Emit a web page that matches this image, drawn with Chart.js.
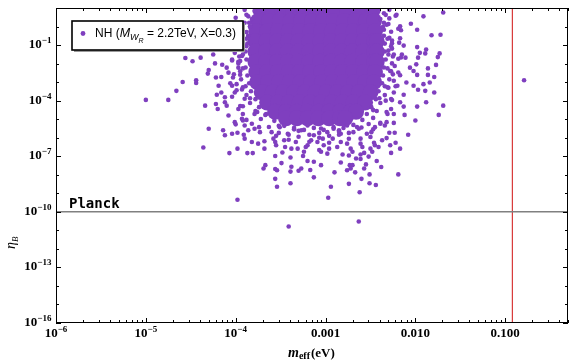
<!DOCTYPE html>
<html>
<head>
<meta charset="utf-8">
<script src="https://cdn.jsdelivr.net/npm/chart.js@4"></script>
<style>
  html, body { margin: 0; padding: 0; background: #fff; }
  #wrap { width: 576px; height: 363px; }
</style>
</head>
<body>
<div id="wrap"><canvas id="chart"></canvas></div>
<script>
/* =========================
   DATA (log10 m_eff, log10 eta_B)
========================= */
const xMin = 1e-6, xMax = 0.5;
const yMin = 1e-16, yMax = 10;
const planckEta = 1e-10;
const mEffBound = 0.12;

const xTickValues = [1e-6, 1e-5, 1e-4, 1e-3, 1e-2, 1e-1];
const xTickLabels = ["10^−6", "10^−5", "10^−4", "0.001", "0.010", "0.100"];
const yTickValues = [1e-16, 1e-13, 1e-10, 1e-7, 1e-4, 1e-1];
const yTickLabels = ["10^−16", "10^−13", "10^−10", "10^−7", "10^−4", "10^−1"];

// dense centre of the cloud
const coreLog = [
  [-3.72,0.85],[-3.60,0.85],[-3.48,0.85],[-3.36,0.85],[-3.24,0.85],[-3.12,0.85],[-3.00,0.85],[-2.88,0.85],[-2.76,0.85],[-2.64,0.85],[-2.52,0.85],[-2.48,0.85],
  [-3.75,0.30],[-3.63,0.30],[-3.51,0.30],[-3.39,0.30],[-3.27,0.30],[-3.15,0.30],[-3.03,0.30],[-2.91,0.30],[-2.79,0.30],[-2.67,0.30],[-2.55,0.30],[-2.46,0.30],
  [-3.77,-0.25],[-3.65,-0.25],[-3.53,-0.25],[-3.41,-0.25],[-3.29,-0.25],[-3.17,-0.25],[-3.05,-0.25],[-2.93,-0.25],[-2.81,-0.25],[-2.69,-0.25],[-2.57,-0.25],[-2.45,-0.25],
  [-3.78,-0.80],[-3.66,-0.80],[-3.54,-0.80],[-3.42,-0.80],[-3.30,-0.80],[-3.18,-0.80],[-3.06,-0.80],[-2.94,-0.80],[-2.82,-0.80],[-2.70,-0.80],[-2.58,-0.80],[-2.46,-0.80],[-2.43,-0.80],
  [-3.78,-1.35],[-3.66,-1.35],[-3.54,-1.35],[-3.42,-1.35],[-3.30,-1.35],[-3.18,-1.35],[-3.06,-1.35],[-2.94,-1.35],[-2.82,-1.35],[-2.70,-1.35],[-2.58,-1.35],[-2.46,-1.35],[-2.43,-1.35],
  [-3.78,-1.90],[-3.66,-1.90],[-3.54,-1.90],[-3.42,-1.90],[-3.30,-1.90],[-3.18,-1.90],[-3.06,-1.90],[-2.94,-1.90],[-2.82,-1.90],[-2.70,-1.90],[-2.58,-1.90],[-2.46,-1.90],[-2.43,-1.90],
  [-3.77,-2.45],[-3.65,-2.45],[-3.53,-2.45],[-3.41,-2.45],[-3.29,-2.45],[-3.17,-2.45],[-3.05,-2.45],[-2.93,-2.45],[-2.81,-2.45],[-2.69,-2.45],[-2.57,-2.45],[-2.45,-2.45],
  [-3.76,-3.00],[-3.64,-3.00],[-3.52,-3.00],[-3.40,-3.00],[-3.28,-3.00],[-3.16,-3.00],[-3.04,-3.00],[-2.92,-3.00],[-2.80,-3.00],[-2.68,-3.00],[-2.56,-3.00],[-2.46,-3.00],
  [-3.71,-3.55],[-3.59,-3.55],[-3.47,-3.55],[-3.35,-3.55],[-3.23,-3.55],[-3.11,-3.55],[-2.99,-3.55],[-2.87,-3.55],[-2.75,-3.55],[-2.63,-3.55],[-2.50,-3.55],
  [-3.65,-4.10],[-3.53,-4.10],[-3.41,-4.10],[-3.29,-4.10],[-3.17,-4.10],[-3.05,-4.10],[-2.93,-4.10],[-2.81,-4.10],[-2.69,-4.10],[-2.56,-4.10],
  [-3.56,-4.60],[-3.44,-4.60],[-3.32,-4.60],[-3.20,-4.60],[-3.08,-4.60],[-2.96,-4.60],[-2.84,-4.60],[-2.72,-4.60],[-2.66,-4.60],
  [-3.44,-4.95],[-3.32,-4.95],[-3.20,-4.95],[-3.08,-4.95],[-2.96,-4.95],[-2.84,-4.95],[-2.78,-4.95]
];

// dotted rim round the dense centre
const rimLog = [
  [-3.79,0.84],[-3.82,0.41],[-3.84,-0.02],[-3.86,-0.50],[-3.87,-0.92],[-3.89,-1.35],[-3.88,-1.78],[-3.89,-2.21],
  [-3.87,-2.64],[-3.85,-3.06],[-3.83,-3.49],[-3.78,-3.92],[-3.74,-4.35],[-3.67,-4.77],
  [-3.88,0.63],[-3.92,0.14],[-3.94,-0.28],[-3.95,-0.76],[-3.97,-1.19],[-3.96,-1.62],[-3.97,-1.99],[-3.95,-2.42],
  [-3.94,-2.85],[-3.92,-3.28],[-3.88,-3.70],[-3.84,-4.13],[-3.78,-4.56],[-3.72,-4.99],
  [-3.57,-5.09],[-3.46,-5.36],[-3.35,-5.47],[-3.24,-5.58],[-3.13,-5.47],[-3.02,-5.58],[-2.91,-5.52],[-2.80,-5.47],
  [-2.69,-5.31],[-2.59,-5.04],
  [-3.63,-5.42],[-3.52,-5.74],[-3.41,-5.84],[-3.30,-5.95],[-3.18,-5.84],[-3.07,-6.00],[-2.96,-5.90],[-2.85,-5.84],
  [-2.74,-5.74],[-2.63,-5.52],[-2.52,-5.26],
  [-2.41,0.84],[-2.39,0.41],[-2.36,-0.02],[-2.35,-0.50],[-2.34,-0.92],[-2.34,-1.35],[-2.33,-1.78],[-2.35,-2.21],
  [-2.36,-2.64],[-2.37,-3.06],[-2.41,-3.49],[-2.44,-3.92],[-2.49,-4.35],[-2.54,-4.72],
  [-2.33,0.63],[-2.30,0.14],[-2.27,-0.28],[-2.26,-0.76],[-2.26,-1.19],[-2.25,-1.62],[-2.26,-1.99],[-2.27,-2.42],
  [-2.29,-2.85],[-2.31,-3.28],[-2.34,-3.70],[-2.39,-4.13],[-2.43,-4.56],[-2.47,-4.93],
  [-4.00,0.47],[-4.03,-0.18],[-4.05,-0.98],[-4.04,-1.83],[-4.02,-2.58],[-3.99,-3.44],[-3.95,-4.29],[-3.88,-5.04],
  [-2.21,0.63],[-2.19,-0.12],[-2.18,-0.87],[-2.16,-1.67],[-2.19,-2.48],[-2.22,-3.22],[-2.26,-3.97],[-2.32,-4.61],
  [-2.39,-5.20],
  [-3.85,0.20],[-3.88,-0.66],[-3.92,-1.51],[-3.92,-2.26],[-3.89,-3.22],[-3.84,-3.87],[-3.76,-4.61],
  [-2.35,0.20],[-2.31,-0.66],[-2.30,-1.51],[-2.31,-2.26],[-2.34,-3.22],[-2.40,-3.87],[-2.47,-4.51],
  [-3.52,-5.36],[-3.30,-5.63],[-3.07,-5.74],[-2.85,-5.68],[-2.65,-5.42],[-3.41,-6.11],[-3.18,-6.22],[-2.96,-6.27],
  [-2.74,-6.06]
];

// individual points around the centre
const scatterLog = [
  [-5.00,-3.96],[-4.75,-3.96],[-4.66,-3.47],[-4.59,-2.99],[-4.44,-2.90],[-4.44,-3.05],[-4.56,-1.70],[-4.48,-1.87],
  [-4.39,-1.68],[-4.25,-1.51],[-4.30,-2.35],[-4.31,-2.54],[-4.23,-1.99],[-4.15,-2.06],[-4.10,-2.22],[-4.22,-2.75],
  [-4.16,-2.72],[-4.08,-2.49],[-4.19,-3.20],[-4.04,-3.20],[-4.21,-3.68],[-4.12,-3.82],[-4.06,-3.06],[-4.01,-3.56],
  [-4.34,-4.27],[-4.22,-4.18],[-4.20,-4.45],[-4.12,-4.09],[-3.97,-4.45],[-4.08,-4.80],[-4.01,-5.16],[-4.30,-5.52],
  [-4.14,-5.60],[-3.93,-4.98],[-4.04,-3.79],[-4.16,-3.56],[-3.95,-1.15],[-4.01,-1.42],[-4.04,-1.78],[-3.95,-1.86],
  [-4.36,-6.53],[-4.10,-4.27],[-3.99,-3.11],[-4.03,-2.75],[-3.97,-2.22],[-3.93,-1.59],[-3.88,-1.06],[-3.86,-0.52],
  [-3.84,0.01],[-3.86,0.55],[-3.90,0.90],[-4.04,-5.79],[-3.90,-6.05],[-3.98,-6.59],[-3.82,-6.23],[-3.68,-6.59],
  [-4.12,-5.87],[-4.07,-6.83],[-3.87,-6.83],[-3.81,-6.83],[-3.98,-9.35],[-4.00,-5.28],[-3.98,-5.73],[-3.92,-5.07],
  [-3.90,-5.34],[-3.82,-5.25],[-3.79,-5.52],[-3.74,-5.43],[-3.73,-5.70],[-3.68,-6.19],[-3.69,-7.66],[-3.67,-7.48],
  [-3.91,-5.84],[-3.86,-5.60],[-3.79,-4.72],[-3.92,-4.72],[-3.66,-4.72],
  [-3.56,-6.99],[-3.48,-6.80],[-3.39,-7.07],[-3.25,-6.99],[-3.24,-6.76],[-3.05,-6.76],[-2.81,-6.91],[-2.74,-6.96],
  [-2.61,-6.91],[-2.57,-6.82],[-2.52,-7.02],[-2.27,-6.82],[-3.56,-7.69],[-3.54,-7.76],[-3.49,-7.37],[-3.39,-7.83],
  [-3.30,-7.78],[-3.20,-7.26],[-3.17,-7.74],[-3.13,-7.30],[-3.05,-7.48],[-3.13,-8.14],[-3.56,-8.22],[-3.39,-8.46],
  [-3.54,-8.65],[-2.90,-7.87],[-2.83,-7.34],[-2.76,-7.76],[-2.73,-7.48],[-2.70,-7.48],[-2.67,-7.87],[-2.66,-7.12],
  [-2.61,-7.15],[-2.55,-7.44],[-2.51,-7.98],[-2.43,-7.26],[-2.38,-7.58],[-2.60,-8.22],[-2.51,-8.46],[-2.44,-8.55],
  [-2.19,-7.98],[-2.74,-8.49],[-2.94,-8.65],[-2.97,-9.24],[-2.62,-8.94],[-3.41,-10.79],[-2.63,-10.52],
  [-2.12,-4.77],[-2.00,-5.07],[-1.74,-4.77],[-2.08,-5.84],[-2.22,-6.27],[-2.32,-6.02],[-2.37,-6.14],[-2.41,-6.50],
  [-2.46,-6.27],[-2.50,-5.96],[-2.23,-5.73],[-2.29,-5.73],[-2.24,-5.20],[-2.34,-5.34],[-2.39,-5.25],[-2.45,-5.43],
  [-2.31,-4.72],[-2.24,-4.72],[-2.49,-5.70],[-2.45,-6.41],
  [-1.69,0.76],[-1.91,0.55],[-2.22,0.58],[-2.29,0.44],[-2.35,0.72],[-2.05,0.15],[-2.17,0.01],[-2.16,-0.20],
  [-1.98,-0.17],[-1.82,-0.47],[-1.72,-0.44],[-2.17,-0.63],[-2.13,-1.03],[-1.98,-1.11],[-1.88,-1.24],[-1.89,-1.45],
  [-1.95,-1.42],[-1.97,-1.68],[-1.73,-1.45],[-1.75,-1.65],[-2.15,-1.51],[-2.11,-1.68],[-1.99,-2.04],[-2.06,-2.22],
  [-2.02,-2.40],[-1.86,-2.26],[-1.77,-2.07],[-1.98,-2.61],[-1.86,-2.61],[-1.79,-2.72],[-2.10,-3.02],[-2.02,-3.20],
  [-1.97,-3.41],[-1.91,-3.11],[-1.89,-3.47],[-1.79,-3.56],[-2.13,-3.68],[-2.17,-4.09],[-2.13,-4.32],[-1.98,-4.32],
  [-2.27,-3.91],[-2.24,-3.56],[-2.20,-3.20],[-2.25,-2.58],[-2.23,-2.13],[-2.19,-1.74],[-2.24,-1.51],[-2.27,-1.06],
  [-2.29,-0.61],[-2.35,-0.17],[-2.29,0.90],[-2.17,-2.63],[-2.24,-2.93],[-2.27,-4.45],[-2.32,-5.16],[-1.88,-4.09],
  [-1.84,-3.02],[-1.69,-4.27],[-2.17,-6.59],[-0.79,-2.90],
  [-3.56,-6.23],[-3.45,-6.50],[-3.31,-6.59],[-3.20,-6.41],[-3.09,-6.23],[-2.96,-6.59],[-2.83,-6.23],[-2.72,-6.59],
  [-2.61,-6.32],[-2.50,-6.59],[-2.28,-6.41],
  [-3.75,-6.32],[-3.58,-6.05],[-3.55,-6.41],[-3.38,-6.59],[-3.33,-6.23],[-3.22,-6.50],[-3.07,-6.67],[-3.02,-6.41],
  [-2.98,-6.86],[-2.92,-6.05],[-2.87,-6.50],[-2.76,-6.32],[-2.70,-6.76],[-2.59,-6.50],[-2.48,-6.76],[-3.38,-7.57],
  [-3.27,-7.66],[-2.72,-7.66],[-2.57,-7.66],
  [-3.60,-5.70],[-3.42,-5.79],[-3.27,-5.60],[-3.13,-5.87],[-2.98,-5.70],[-2.83,-5.79],[-2.69,-5.70],[-2.54,-5.79],
  [-2.76,-5.34],[-3.51,-5.43],[-3.20,-5.34],[-2.91,-5.43],[-2.61,-6.05],[-3.46,-6.14],[-3.16,-6.14],[-3.03,-6.05],
  [-3.35,-5.55],[-3.05,-5.50],[-2.85,-5.60],[-2.60,-5.45],[-3.55,-5.90],[-2.47,-5.55],
  [-3.95,-2.60],[-3.93,-3.40],[-3.90,-3.90],[-3.92,-4.30],[-3.97,-1.90],[-3.93,-0.75],[-3.90,0.20],[-3.88,-0.30],
  [-2.30,-1.30],[-2.28,-2.40],[-2.30,-3.30],[-2.33,-4.00],[-2.32,0.10],[-2.26,-0.90]
];

/* =========================
   STYLE
========================= */
const PURPLE = "#7f3fbf";
const SERIF = '"Liberation Serif", "DejaVu Serif", serif';
const SANS = '"Liberation Sans", Arial, sans-serif';

const toPoints = arr => arr.map(([lm, le]) => ({ x: Math.pow(10, lm), y: Math.pow(10, le) }));

// "10^−4" -> base + raised exponent
function drawPowerLabel(ctx, label, x, baseY, align) {
  const [base, exp] = label.split("^");
  ctx.font = "bold 13px " + SERIF;
  const wb = ctx.measureText(base).width;
  let we = 0;
  if (exp) {
    ctx.font = "bold 9px " + SERIF;
    we = ctx.measureText(exp).width;
  }
  const total = wb + we;
  const start = align === "right" ? x - total : x - total / 2;
  ctx.font = "bold 13px " + SERIF;
  ctx.fillText(base, start, baseY);
  if (exp) {
    ctx.font = "bold 9px " + SERIF;
    ctx.fillText(exp, start + wb, baseY - 5);
  }
}

/* =========================
   FRAME, INSIDE TICKS, LEGEND, LABELS
========================= */
const framePlugin = {
  id: "frame",
  afterDraw(chart) {
    const { ctx, chartArea: a, scales: { x, y } } = chart;
    ctx.save();

    // frame
    ctx.strokeStyle = "#000";
    ctx.lineWidth = 1;
    ctx.strokeRect(a.left + 0.5, a.top + 0.5, a.right - a.left - 1, a.bottom - a.top - 1);

    // inside ticks
    const xMinor = [];
    for (let e = -6; e <= -1; e++) {
      for (let k = 2; k <= 9; k++) {
        const v = k * Math.pow(10, e);
        if (v <= xMax) xMinor.push(v);
      }
    }
    const yMinor = [];
    for (let e = -16; e <= 1; e++) {
      if ((e + 16) % 3 !== 0) yMinor.push(Math.pow(10, e));
    }

    ctx.beginPath();
    const xt = (v, len) => {
      const px = Math.round(x.getPixelForValue(v)) + 0.5;
      ctx.moveTo(px, a.bottom); ctx.lineTo(px, a.bottom - len);
      ctx.moveTo(px, a.top); ctx.lineTo(px, a.top + len);
    };
    const yt = (v, len) => {
      const py = Math.round(y.getPixelForValue(v)) + 0.5;
      ctx.moveTo(a.left, py); ctx.lineTo(a.left + len, py);
      ctx.moveTo(a.right, py); ctx.lineTo(a.right - len, py);
    };
    xTickValues.forEach(v => xt(v, 5));
    xMinor.forEach(v => xt(v, 3));
    yTickValues.forEach(v => yt(v, 5));
    yMinor.forEach(v => yt(v, 3));
    ctx.stroke();

    // tick labels
    ctx.fillStyle = "#000";
    ctx.textBaseline = "alphabetic";
    ctx.textAlign = "left";
    xTickValues.forEach((v, i) => drawPowerLabel(ctx, xTickLabels[i], x.getPixelForValue(v), a.bottom + 14, "center"));
    yTickValues.forEach((v, i) => drawPowerLabel(ctx, yTickLabels[i], a.left - 4.5, y.getPixelForValue(v) + 3, "right"));

    // Planck label
    ctx.font = 'bold 14px "DejaVu Sans Mono", monospace';
    ctx.fillText("Planck", 69, y.getPixelForValue(planckEta) - 4);

    // legend box
    const bx = 72, by = 21, bw = 171, bh = 29;
    ctx.fillStyle = "#9a9a9a";
    ctx.fillRect(bx + 2, by + 2, bw, bh);
    ctx.fillStyle = "#fff";
    ctx.fillRect(bx, by, bw, bh);
    ctx.lineWidth = 1.6;
    ctx.strokeStyle = "#000";
    ctx.strokeRect(bx, by, bw, bh);

    ctx.fillStyle = PURPLE;
    ctx.beginPath();
    ctx.arc(83, 33.5, 2.4, 0, Math.PI * 2);
    ctx.fill();

    let tx = 95;
    const base = 37;
    ctx.fillStyle = "#000";
    const put = (s, font, dy) => {
      ctx.font = font;
      ctx.fillText(s, tx, base + dy);
      tx += ctx.measureText(s).width;
    };
    put("NH (", "12px " + SANS, 0);
    put("M", "italic 12.5px " + SANS, 0);
    put("W", "italic 9px " + SANS, 3);
    put("R", "italic 7px " + SANS, 5.5);
    put(" = 2.2TeV, X=0.3)", "12px " + SANS, 0);

    // x axis title
    tx = 288;
    const xb = 356.5;
    ctx.font = "italic bold 14px " + SERIF;
    ctx.fillText("m", tx, xb); tx += ctx.measureText("m").width;
    ctx.font = "bold 10px " + SERIF;
    ctx.fillText("eff", tx, xb + 2.5); tx += ctx.measureText("eff").width + 1;
    ctx.font = "bold 13px " + SERIF;
    ctx.fillText("(eV)", tx, xb);

    // y axis title
    ctx.translate(15, 249);
    ctx.rotate(-Math.PI / 2);
    ctx.font = "italic 14px " + SERIF;
    ctx.fillText("η", 0, 0);
    const ew = ctx.measureText("η").width;
    ctx.font = "italic 9px " + SERIF;
    ctx.fillText("B", ew, 3);

    ctx.restore();
  }
};

/* =========================
   CHART
========================= */
new Chart(document.getElementById("chart"), {
  type: "scatter",
  data: {
    datasets: [
      {
        type: "line",
        label: "Planck",
        data: [{ x: xMin, y: planckEta }, { x: xMax, y: planckEta }],
        borderColor: "#808080",
        borderWidth: 1.6,
        pointRadius: 0,
        clip: 0
      },
      {
        type: "line",
        label: "bound",
        data: [{ x: mEffBound, y: yMin }, { x: mEffBound, y: yMax }],
        borderColor: "#d01010",
        borderWidth: 1,
        pointRadius: 0,
        clip: 0
      },
      {
        label: "NH scatter",
        data: toPoints(scatterLog.concat(rimLog)),
        backgroundColor: PURPLE,
        borderWidth: 0,
        pointRadius: 2.3,
        clip: 0
      },
      {
        label: "NH core",
        data: toPoints(coreLog),
        backgroundColor: PURPLE,
        borderWidth: 0,
        pointRadius: 8,
        clip: 0
      }
    ]
  },
  options: {
    responsive: true,
    maintainAspectRatio: false,
    animation: false,
    events: [],
    layout: { padding: { left: 6, right: 6, top: 5, bottom: 20 } },
    plugins: {
      legend: { display: false },
      tooltip: { enabled: false }
    },
    scales: {
      x: {
        type: "logarithmic",
        min: xMin,
        max: xMax,
        grid: { display: false },
        border: { display: false },
        afterBuildTicks: s => { s.ticks = xTickValues.map(v => ({ value: v })); },
        afterFit: s => { s.height = 20; },
        ticks: { display: false }
      },
      y: {
        type: "logarithmic",
        min: yMin,
        max: yMax,
        grid: { display: false },
        border: { display: false },
        afterBuildTicks: s => { s.ticks = yTickValues.map(v => ({ value: v })); },
        afterFit: s => { s.width = 50; },
        ticks: { display: false }
      }
    }
  },
  plugins: [framePlugin]
});
</script>
</body>
</html>
